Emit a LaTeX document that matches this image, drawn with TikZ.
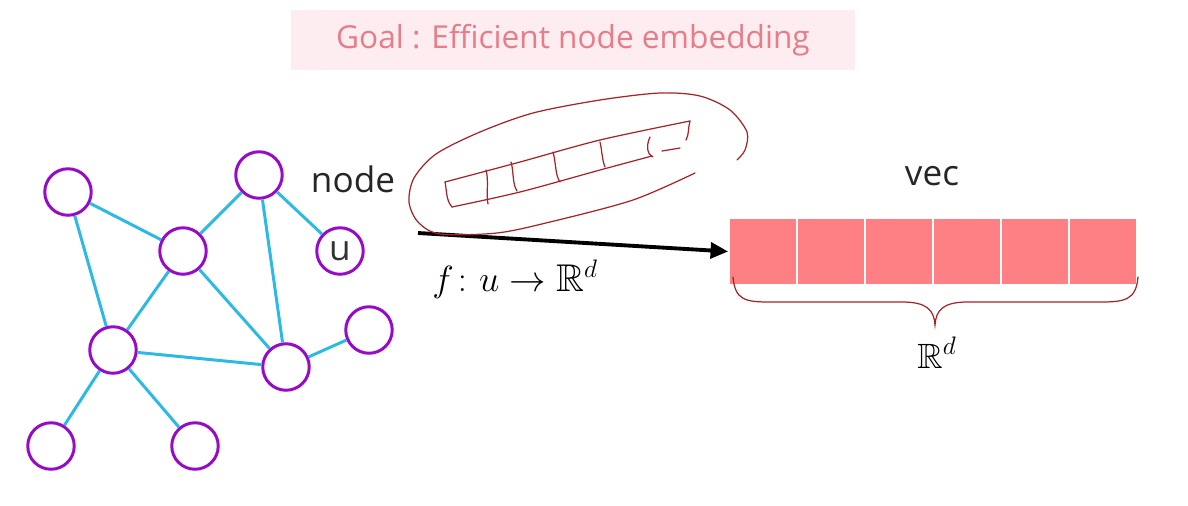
\documentclass[tikz,border=0pt]{standalone}
\usepackage{amsmath,amssymb}
\usepackage{fontspec}
\setmainfont{Open Sans}
\usepackage{tikz}
\usetikzlibrary{arrows.meta}
\definecolor{vpurple}{RGB}{150,10,200}
\definecolor{ecyan}{RGB}{45,185,230}
\definecolor{cellred}{RGB}{255,128,132}
\definecolor{titlered}{RGB}{230,125,136}
\definecolor{titlebg}{RGB}{253,237,241}
\definecolor{ink}{RGB}{165,35,40}
\tikzstyle{Vertex}=[circle, minimum size=0.93cm, inner sep=0, draw=vpurple, line width=1.7pt, font=\fontsize{20}{24}\selectfont]
\tikzstyle{Edge}=[draw=ecyan, line width=1.7pt]
\tikzstyle{Cell}=[rectangle, minimum width=1.36cm, minimum height=1.34cm, inner sep=0, fill=cellred, draw=white, line width=1pt]
\tikzstyle{Ink}=[draw=ink, line width=0.7pt, line cap=round]

\begin{document}
\begin{tikzpicture}[x=0.02cm, y=-0.02cm]
    \useasboundingbox (0,0) rectangle (1188,505);
    \path
    (573,40) node[rectangle, fill=titlebg, minimum width=11.3cm, minimum height=1.2cm, text=titlered, font=\fontsize{18}{22}\selectfont] (goal) {Goal : Efficient node embedding}
    (68,192) node[Vertex] (na) {}
    (259,175) node[Vertex] (nb) {}
    (183,251) node[Vertex] (nc) {}
    (340,251) node[Vertex, text=black!80] (u) {u}
    (369,330) node[Vertex] (nd) {}
    (113,350) node[Vertex] (ne) {}
    (286,367) node[Vertex] (nf) {}
    (51,446) node[Vertex] (ng) {}
    (195,446) node[Vertex] (nh) {};
    \path (353,192) node[anchor=base, text=black!85, font=\fontsize{20}{24}\selectfont] (nodelabel) {node}
    (932,185) node[anchor=base, text=black!85, font=\fontsize{20}{24}\selectfont] (veclabel) {vec};
    \path (763,251.5) node[Cell] (c1) {}
    (831,251.5) node[Cell] (c2) {}
    (899,251.5) node[Cell] (c3) {}
    (967,251.5) node[Cell] (c4) {}
    (1035,251.5) node[Cell] (c5) {}
    (1103,251.5) node[Cell] (c6) {};

    \draw[Edge] (na) -- (nc);
    \draw[Edge] (na) -- (ne);
    \draw[Edge] (nb) -- (nc);
    \draw[Edge] (nb) -- (u);
    \draw[Edge] (nb) -- (nf);
    \draw[Edge] (nc) -- (ne);
    \draw[Edge] (nc) -- (nf);
    \draw[Edge] (ne) -- (nf);
    \draw[Edge] (nf) -- (nd);
    \draw[Edge] (ne) -- (ng);
    \draw[Edge] (ne) -- (nh);

    \coordinate (src) at (418,233);
    \draw[line width=2.2pt, -{Triangle[length=10pt, width=9pt]}] (src) -- (c1.west);
    \path (432,291) node[anchor=base west, inner sep=0, font=\fontsize{22}{26}\selectfont] (map) {$f\colon u \to \mathbb{R}^d$};

    % brace under the vector
    \draw[Ink] (733,277) .. controls (735,300) and (745,302) .. (770,302) -- (902,302)
        .. controls (927,302) and (934,310) .. (935,325) .. controls (936,310) and (943,302) .. (968,302)
        -- (1100,302) .. controls (1125,302) and (1136,300) .. (1138,277);
    \path (937,368) node[anchor=base, inner sep=0, font=\fontsize{20}{24}\selectfont] (rd) {$\mathbb{R}^d$};

    % hand drawn sketch
    \draw[Ink] plot[smooth] coordinates {(695,173) (633,200) (550,222) (497,233) (440,234) (418,222) (409,202) (414,178) (436,154) (480,132) (533,113) (600,100) (660,93) (700,96) (730,110) (747,132) (745,150) (737,160)};
    \draw[Ink] plot[smooth] coordinates {(445,182) (520,162) (600,140) (690,121)};
    \draw[Ink] plot[smooth] coordinates {(452,207) (520,192) (600,170) (652,156)};
    \draw[Ink] (662,151) -- (680,148);
    \draw[Ink] (445,182) .. controls (447,192) and (446,200) .. (452,207);
    \draw[Ink] (690,121) .. controls (688,128) and (689,135) .. (686,140);
    \draw[Ink] (486,170) .. controls (489,180) and (486,195) .. (488,204);
    \draw[Ink] (511,162) .. controls (514,172) and (512,183) .. (517,191);
    \draw[Ink] (553,152) .. controls (556,162) and (555,175) .. (560,182);
    \draw[Ink] (600,142) .. controls (602,150) and (602,160) .. (605,167);
    \draw[Ink] (650,137) .. controls (646,145) and (647,155) .. (653,157);
\end{tikzpicture}
\end{document}
